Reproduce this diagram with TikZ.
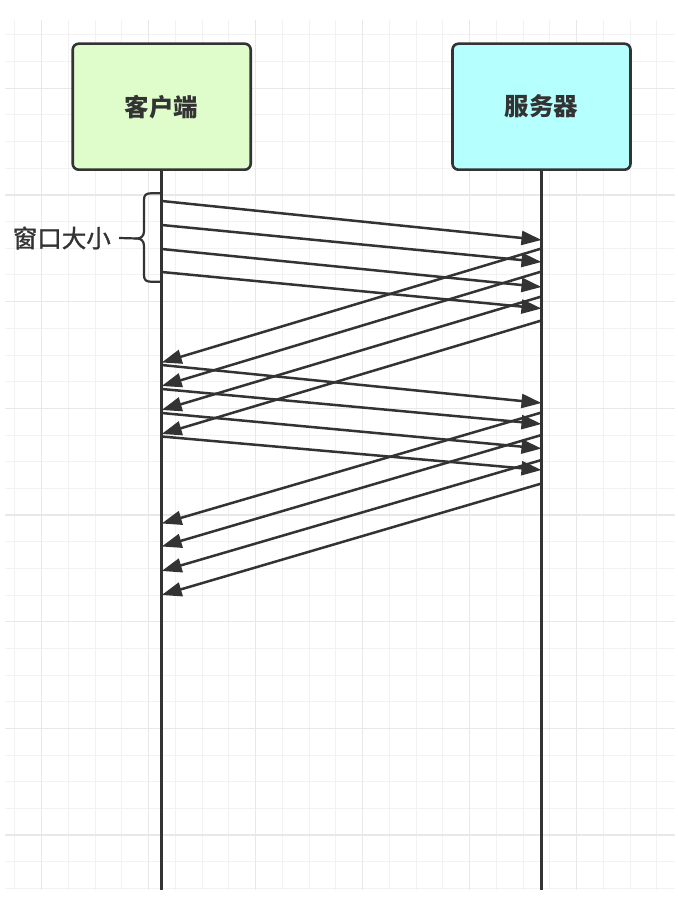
\documentclass[tikz,border=0pt]{standalone}
\usepackage{fontspec}
\newfontfamily\cjk{Noto Sans CJK SC}
\newfontfamily\cjkmed[FakeBold=1.2]{Noto Sans CJK SC}
\usetikzlibrary{arrows.meta}
\definecolor{ink}{HTML}{333333}
\definecolor{gridminor}{HTML}{F2F2F2}
\definecolor{gridmajor}{HTML}{E8E8E8}
\definecolor{clientfill}{HTML}{DEFDCB}
\definecolor{serverfill}{HTML}{B6FFFF}
\tikzset{
  actor/.style={draw=ink, line width=2.6pt, rounded corners=6pt, minimum width=178pt, minimum height=126pt, inner sep=0pt, font=\cjk\bfseries\fontsize{24.5}{24.5}\selectfont, text=ink},
  lifeline/.style={draw=ink, line width=2.5pt},
  msg/.style={draw=ink, line width=2.5pt, -{Triangle[length=20pt,width=14pt]}},
  brace/.style={draw=ink, line width=2.2pt},
  gminor/.style={draw=gridminor, line width=1pt},
  gmajor/.style={draw=gridmajor, line width=1.2pt},
}
\begin{document}
\begin{tikzpicture}[x=1pt,y=-1pt]
\useasboundingbox (0,0) rectangle (677,904);
\fill[white] (0,0) rectangle (677,904);
% grid
\foreach \k in {0,...,24} {
  \pgfmathsetmacro{\gx}{14.75+26.75*\k}
  \draw[gminor] (\gx,20) -- (\gx,890);
}
\foreach \k in {-2,...,30} {
  \pgfmathsetmacro{\gy}{88.3+26.67*\k}
  \draw[gminor] (5,\gy) -- (675,\gy);
}
\foreach \gx in {41.5,148.5,255.5,362.5,469.5,576.5} {
  \draw[gmajor] (\gx,20) -- (\gx,890);
}
\foreach \gy in {88.3,195,301.7,408.3,515,621.7,728.3,835} {
  \draw[gmajor] (5,\gy) -- (675,\gy);
}
% actors
\node[actor, fill=clientfill] (client) at (161.7,106.7) {客户端};
\node[actor, fill=serverfill] (server) at (541.5,106.7) {服务器};
\coordinate (clientend) at (161.7,890);
\coordinate (serverend) at (541.5,890);
\draw[lifeline] (client.south) -- (clientend);
\draw[lifeline] (server.south) -- (serverend);
% send batch 1
\foreach \i/\a/\b in {1/201/240, 2/225/262, 3/249/287, 4/272/308.5} {
  \coordinate (sa\i) at (161.7,\a);
  \coordinate (sb\i) at (541.5,\b);
  \draw[msg] (sa\i) -- (sb\i);
}
% return batch 1
\foreach \i/\a/\b in {1/248.5/362.5, 2/271.5/386, 3/296.5/410, 4/320.5/434} {
  \coordinate (ra\i) at (541.5,\a);
  \coordinate (rb\i) at (161.7,\b);
  \draw[msg] (ra\i) -- (rb\i);
}
% send batch 2
\foreach \i/\a/\b in {1/365/403, 2/389/424, 3/413/448.5, 4/436.5/470} {
  \coordinate (ta\i) at (161.7,\a);
  \coordinate (tb\i) at (541.5,\b);
  \draw[msg] (ta\i) -- (tb\i);
}
% return batch 2
\foreach \i/\a/\b in {1/412.5/523.5, 2/435/546.5, 3/460/571, 4/483.5/595} {
  \coordinate (ua\i) at (541.5,\a);
  \coordinate (ub\i) at (161.7,\b);
  \draw[msg] (ua\i) -- (ub\i);
}
% brace
\coordinate (bracetip) at (137,238.5);
\draw[brace] (160,193.3) -- (151,193.3) .. controls (146,193.3) and (144,195) .. (144,200) -- (144,231) .. controls (144,236) and (141,238.5) .. (bracetip) .. controls (141,238.5) and (144,241) .. (144,246) -- (144,275) .. controls (144,280) and (146,281.7) .. (151,281.7) -- (160,281.7);
\node[anchor=east, inner xsep=8pt, inner ysep=0pt, font=\cjkmed\fontsize{24.5}{24.5}\selectfont, text=ink] (lbl) at (119,238) {窗口大小};
\draw[brace] (lbl.east) -- (bracetip);
\end{tikzpicture}
\end{document}
